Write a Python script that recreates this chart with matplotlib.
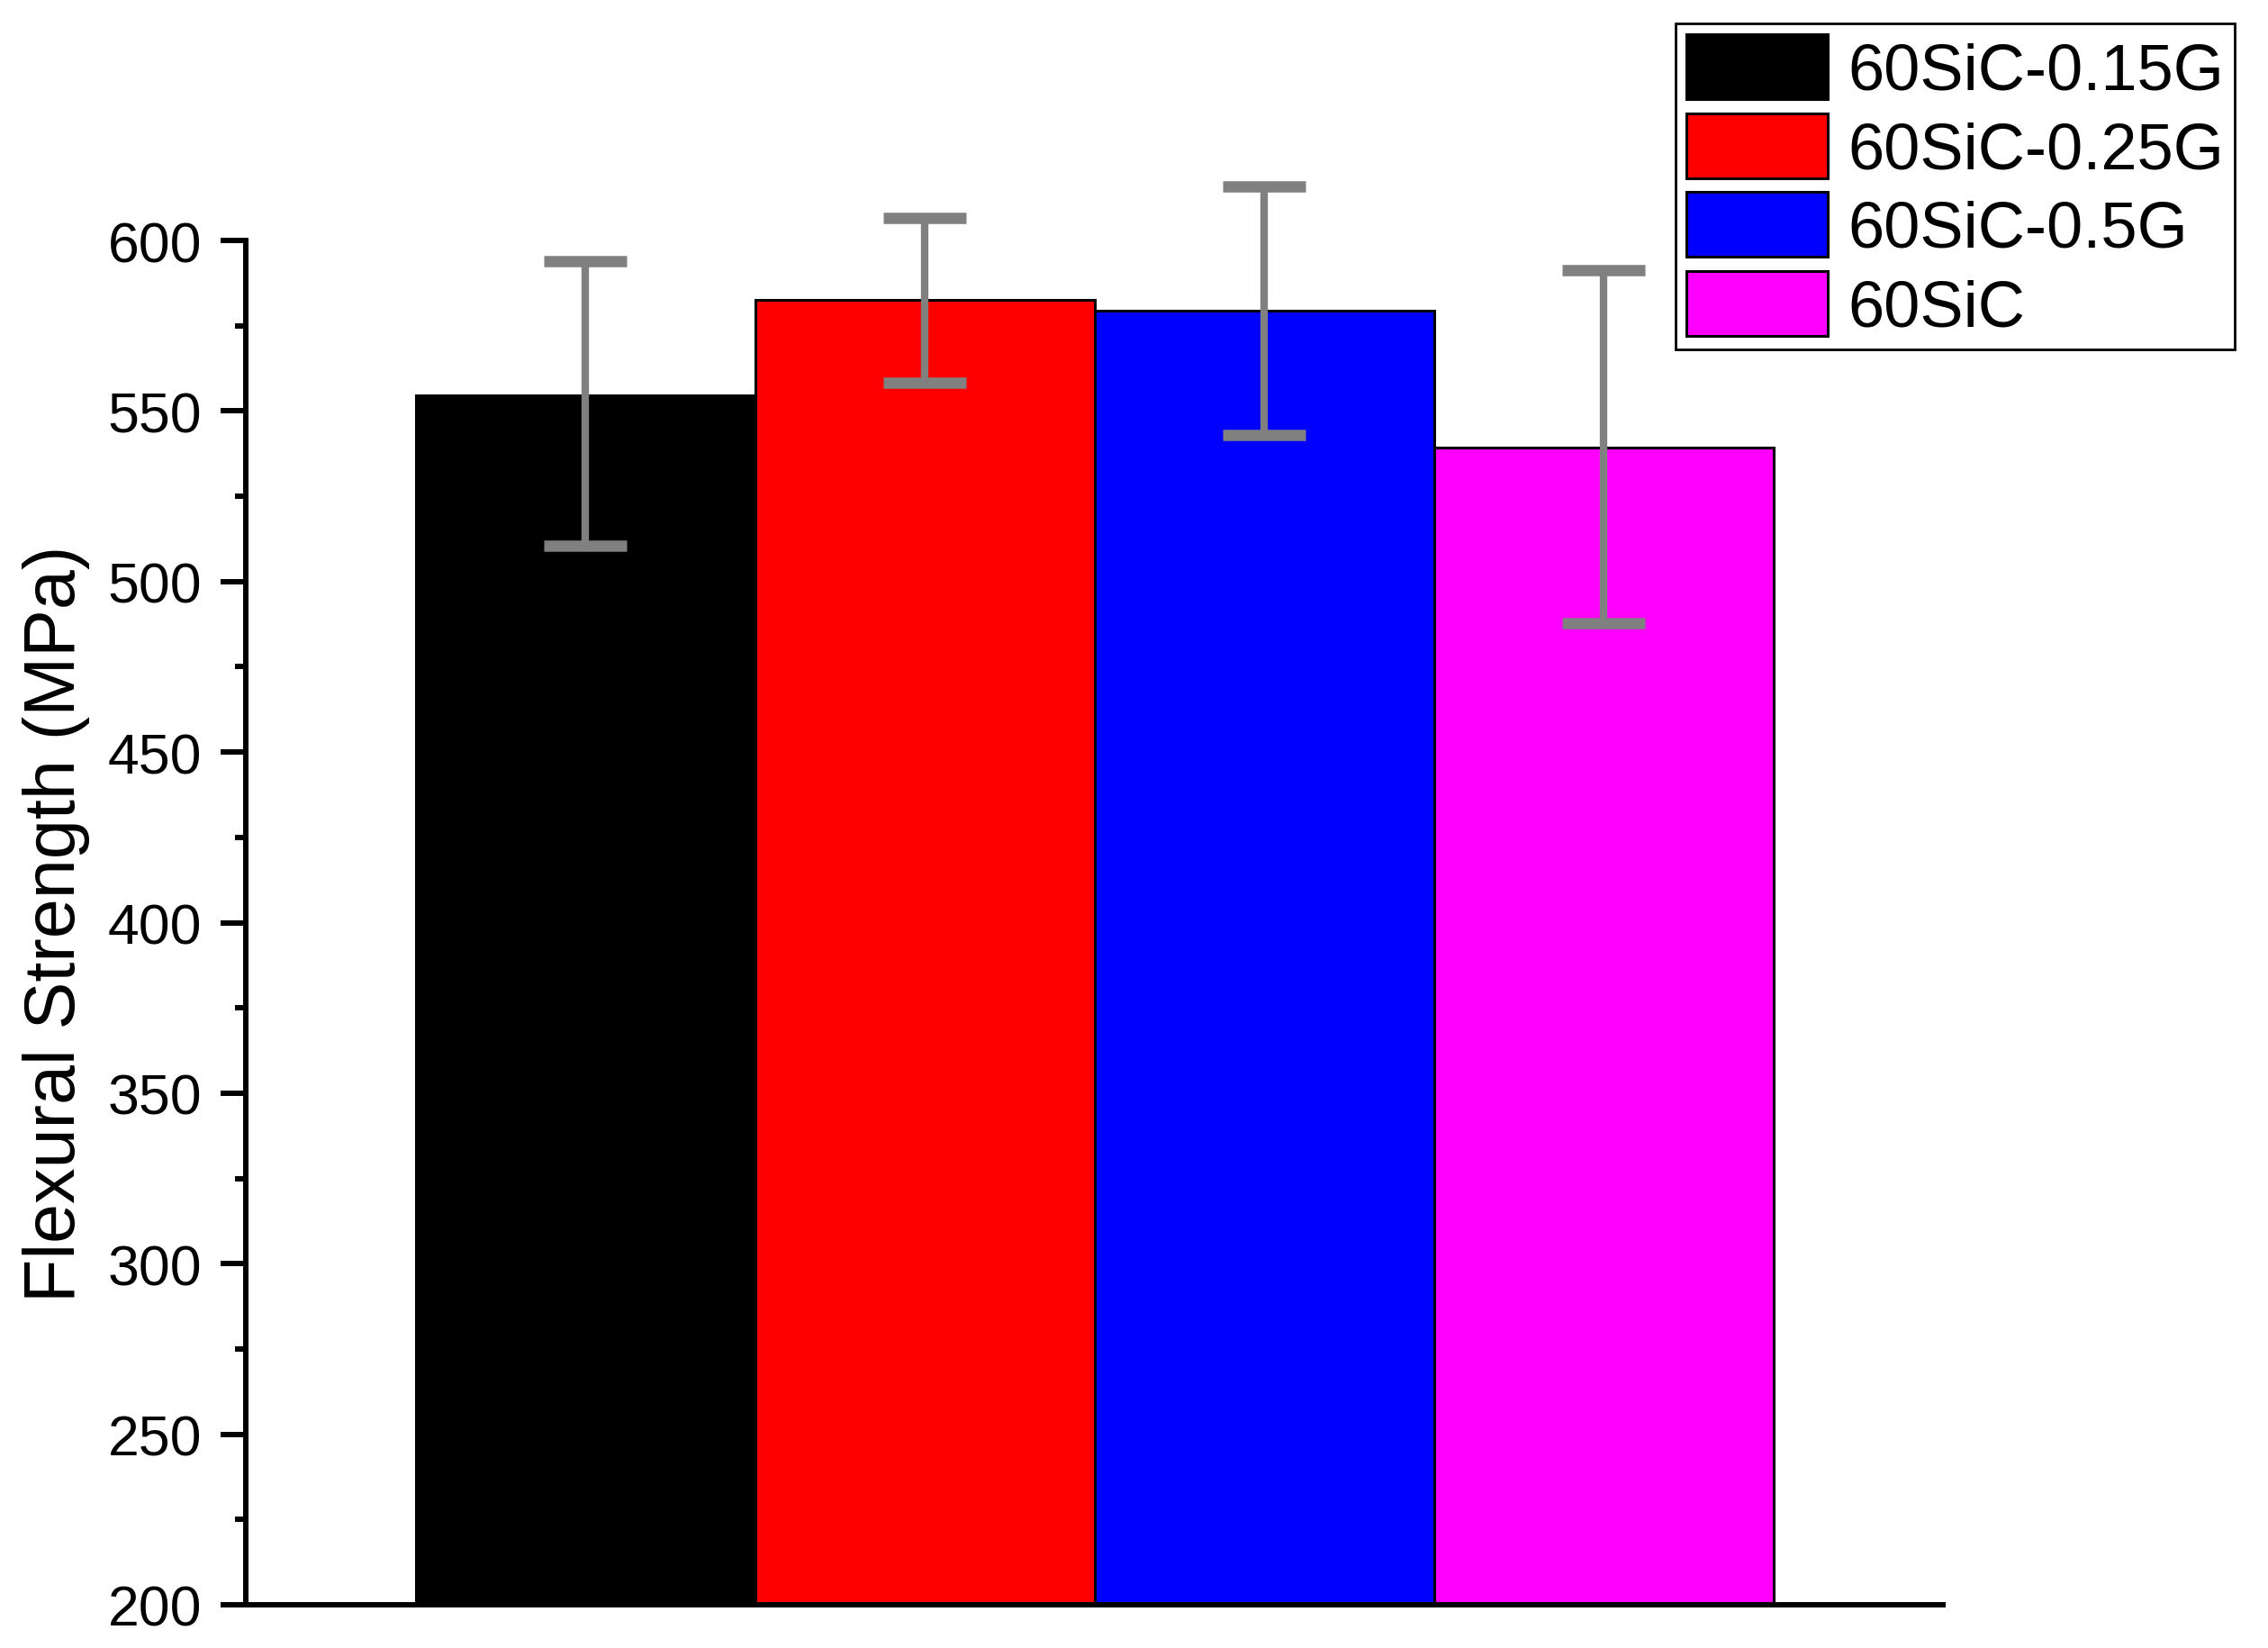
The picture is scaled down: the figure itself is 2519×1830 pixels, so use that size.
import numpy as np
import matplotlib
matplotlib.use("Agg")
import matplotlib.pyplot as plt
from matplotlib import font_manager

# ---- data -----------------------------------------------------------------
labels = ["60SiC-0.15G", "60SiC-0.25G", "60SiC-0.5G", "60SiC"]
strength = [554.5, 582.5, 579.3, 539.2]          # MPa
err_low = [44.0, 24.3, 36.4, 51.4]
err_high = [39.5, 24.0, 36.5, 52.0]
colors = ["#000000", "#ff0000", "#0000ff", "#ff00ff"]
yticks = [200, 250, 300, 350, 400, 450, 500, 550, 600]

names = {f.name for f in font_manager.fontManager.ttflist}
main_font = "Liberation Sans" if "Liberation Sans" in names else "DejaVu Sans"
narrow = "Liberation Sans Narrow" in names
leg_font = "Liberation Sans Narrow" if narrow else main_font
leg_size = 61 if narrow else 52
plt.rcParams["font.family"] = [main_font, "DejaVu Sans"]

W, H = 2519, 1831
fig = plt.figure(figsize=(W / 100, H / 100), dpi=100)
ax = fig.add_axes([273 / W, 1 - 1783 / H, (2158 - 273) / W, (1783 - 268) / H])

x = np.arange(1, len(labels) + 1)
for xi, v, lo, hi, c, lab in zip(x, strength, err_low, err_high, colors, labels):
    ax.bar(xi, v - 200, width=1.0, bottom=200, color=c, edgecolor="black",
           linewidth=2.2, label=lab, zorder=2)
    ax.errorbar(xi, v, yerr=[[lo], [hi]], fmt="none", ecolor="#808080",
                elinewidth=6, capsize=33, capthick=9, zorder=3, clip_on=False)

ax.set_xlim(0, 5)
ax.set_ylim(200, 600)
ax.set_yticks(yticks)
ax.set_yticks(np.arange(225, 600, 50), minor=True)
ax.set_xticks([])
for s in ["top", "right"]:
    ax.spines[s].set_visible(False)
for s in ["left", "bottom"]:
    ax.spines[s].set_linewidth(4.3)
ax.tick_params(axis="y", which="major", direction="out", length=20, width=4.3,
               labelsize=45, pad=15)
ax.tick_params(axis="y", which="minor", direction="out", length=9, width=4.3)
ax.set_ylabel("Flexural Strength (MPa)", fontsize=57, labelpad=14)

px = leg_size * 100 / 72      # font size in pixels
leg = fig.legend(loc="upper right", bbox_to_anchor=(2482 / W, 1 - 27 / H),
                 borderaxespad=0, fancybox=False, framealpha=1,
                 edgecolor="black", prop={"family": leg_font, "size": leg_size},
                 handlelength=157 / px, handleheight=84 / px,
                 handletextpad=22 / px, labelspacing=12 / px, borderpad=12 / px)
leg.get_frame().set_linewidth(2)

fig.savefig("out.png", dpi=100)
